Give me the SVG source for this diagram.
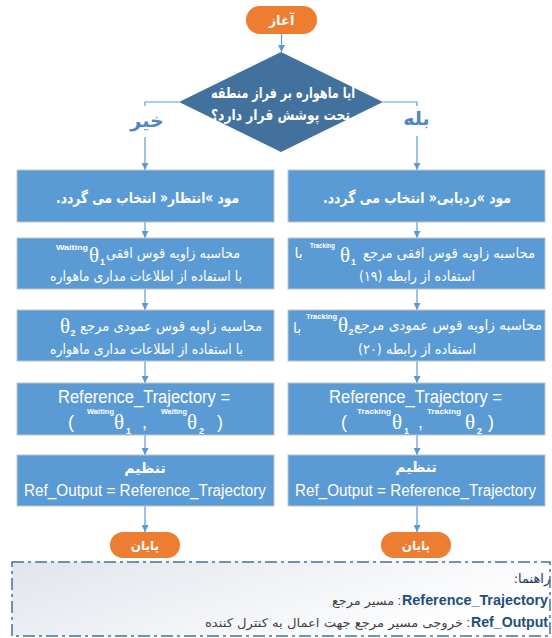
<svg xmlns="http://www.w3.org/2000/svg" width="552" height="638" viewBox="0 0 552 638">
<defs>
<style>
.box{fill:#5B9BD5;stroke:#c4c4c4;stroke-width:1}
.term{fill:#ED7D31}
.dia{fill:#41719C}
.conn{stroke:#5B9BD5;stroke-width:1.2;fill:none}
.fa{font-family:"DejaVu Sans",sans-serif}
.lat{font-family:"Liberation Sans",Arial,sans-serif}
.th{font-family:"Liberation Serif","Times New Roman",serif;font-size:21px;fill:#fff}
.sup{font-family:"Liberation Sans",Arial,sans-serif;font-size:8px;font-weight:bold;fill:#fff}
.sub{font-family:"Liberation Sans",Arial,sans-serif;font-size:9px;font-weight:bold;fill:#fff}
.w{fill:#fff}
.b{font-weight:bold}
.lbl{font-family:"DejaVu Sans",sans-serif;font-weight:bold;font-size:19px;fill:#4F87C4}
</style>
<marker id="ah" viewBox="0 0 8 8" refX="8" refY="4" markerWidth="7" markerHeight="7" markerUnits="userSpaceOnUse" orient="auto">
<path d="M0,0 L8,4 L0,8 z" fill="#5B9BD5"/>
</marker>
<linearGradient id="lg" x1="0" y1="0" x2="1" y2="0.4">
<stop offset="0" stop-color="#e1e5ec"/>
<stop offset="1" stop-color="#ffffff"/>
</linearGradient>
</defs>

<g id="connectors">
<path class="conn" d="M281.5,34 V52" marker-end="url(#ah)"/>
<path class="conn" d="M179,102 H145 V106"/>
<path class="conn" d="M145,137 V170" marker-end="url(#ah)"/>
<path class="conn" d="M383,102 H417 V106"/>
<path class="conn" d="M417,136 V170" marker-end="url(#ah)"/>
<path class="conn" d="M145,222 V238" marker-end="url(#ah)"/>
<path class="conn" d="M145,289 V310" marker-end="url(#ah)"/>
<path class="conn" d="M145,361 V383" marker-end="url(#ah)"/>
<path class="conn" d="M145,435 V455" marker-end="url(#ah)"/>
<path class="conn" d="M145,506 V532" marker-end="url(#ah)"/>
<path class="conn" d="M417,222 V238" marker-end="url(#ah)"/>
<path class="conn" d="M417,289 V310" marker-end="url(#ah)"/>
<path class="conn" d="M417,361 V383" marker-end="url(#ah)"/>
<path class="conn" d="M417,435 V455" marker-end="url(#ah)"/>
<path class="conn" d="M417,506 V532" marker-end="url(#ah)"/>
<text class="lbl" x="147" y="127" text-anchor="middle">خیر</text>
<text class="lbl" x="416.5" y="125" text-anchor="middle">بله</text>
</g>

<g id="start">
<rect class="term" x="246" y="6" width="71" height="28" rx="14"/>
<text class="fa w b" x="281.5" y="25" font-size="13" text-anchor="middle">آغاز</text>
</g>

<g id="decision">
<polygon class="dia" points="281,52 383,102 281,152 179,102"/>
<text class="fa w b" x="283" y="98" font-size="15" text-anchor="middle" direction="rtl" textLength="144" lengthAdjust="spacingAndGlyphs">آیا ماهواره بر فراز منطقه</text>
<text class="fa w b" x="280.5" y="120" font-size="15" text-anchor="middle" direction="rtl" textLength="139" lengthAdjust="spacingAndGlyphs">تحت پوشش قرار دارد؟</text>
</g>

<g id="wait-mode">
<rect class="box" x="17" y="170" width="257" height="52"/>
<text class="fa w b" x="147.5" y="203" font-size="15" text-anchor="middle" direction="rtl" textLength="183" lengthAdjust="spacingAndGlyphs">مود »انتظار« انتخاب می گردد.</text>
</g>

<g id="track-mode">
<rect class="box" x="288" y="170" width="257" height="52"/>
<text class="fa w b" x="417" y="203" font-size="15" text-anchor="middle" direction="rtl" textLength="188" lengthAdjust="spacingAndGlyphs">مود »ردیابی« انتخاب می گردد.</text>
</g>

<g id="wait-theta1">
<rect class="box" x="17" y="238" width="257" height="51"/>
<text class="sup" x="56" y="250" textLength="32" lengthAdjust="spacingAndGlyphs">Waiting</text>
<text class="th" x="89" y="262">θ</text>
<text class="sub" x="100" y="265">1</text>
<text class="fa w" x="173" y="258" font-size="14" text-anchor="middle" textLength="134" lengthAdjust="spacingAndGlyphs">محاسبه زاویه قوس افقی</text>
<text class="fa w" x="146" y="281" font-size="14" text-anchor="middle" textLength="192" lengthAdjust="spacingAndGlyphs">با استفاده از اطلاعات مداری ماهواره</text>
</g>

<g id="track-theta1">
<rect class="box" x="288" y="238" width="257" height="51"/>
<text class="fa w" x="298.5" y="258" font-size="14" text-anchor="middle">با</text>
<text class="sup" x="310" y="248" textLength="25" lengthAdjust="spacingAndGlyphs">Tracking</text>
<text class="th" x="340" y="262">θ</text>
<text class="sub" x="351" y="265">1</text>
<text class="fa w" x="449" y="258" font-size="14" text-anchor="middle" textLength="172" lengthAdjust="spacingAndGlyphs">محاسبه زاویه قوس افقی مرجع</text>
<text class="fa w" x="417" y="281" font-size="14" text-anchor="middle" direction="rtl" textLength="116" lengthAdjust="spacingAndGlyphs">استفاده از رابطه (۱۹)</text>
</g>

<g id="wait-theta2">
<rect class="box" x="17" y="310" width="257" height="51"/>
<text class="th" x="60" y="333">θ</text>
<text class="sub" x="70.5" y="336">2</text>
<text class="fa w" x="171" y="331" font-size="14" text-anchor="middle" textLength="182" lengthAdjust="spacingAndGlyphs">محاسبه زاویه قوس عمودی مرجع</text>
<text class="fa w" x="146.5" y="354" font-size="14" text-anchor="middle" textLength="193" lengthAdjust="spacingAndGlyphs">با استفاده از اطلاعات مداری ماهواره</text>
</g>

<g id="track-theta2">
<rect class="box" x="288" y="310" width="257" height="51"/>
<text class="fa w" x="297" y="333" font-size="14" text-anchor="middle">با</text>
<text class="sup" x="306" y="319" textLength="31" lengthAdjust="spacingAndGlyphs">Tracking</text>
<text class="th" x="338" y="332">θ</text>
<text class="sub" x="348.5" y="335">2</text>
<text class="fa w" x="448" y="330" font-size="14" text-anchor="middle" textLength="188" lengthAdjust="spacingAndGlyphs">محاسبه زاویه قوس عمودی مرجع</text>
<text class="fa w" x="417" y="354" font-size="14" text-anchor="middle" direction="rtl" textLength="118" lengthAdjust="spacingAndGlyphs">استفاده از رابطه (۲۰)</text>
</g>

<g id="wait-ref">
<rect class="box" x="17" y="383" width="257" height="52"/>
<text class="lat w" x="58" y="403" font-size="18" textLength="172" lengthAdjust="spacingAndGlyphs">Reference_Trajectory =</text>
<text class="lat w" x="68" y="428" font-size="18">(</text>
<text class="sup" x="87" y="414" textLength="27" lengthAdjust="spacingAndGlyphs">Waiting</text>
<text class="th" x="114" y="429" font-size="22">θ</text>
<text class="sub" x="126" y="434">1</text>
<text class="lat w" x="142" y="428" font-size="18">,</text>
<text class="sup" x="161" y="414" textLength="26" lengthAdjust="spacingAndGlyphs">Waiting</text>
<text class="th" x="187" y="429" font-size="22">θ</text>
<text class="sub" x="199" y="434">2</text>
<text class="lat w" x="217" y="428" font-size="18">)</text>
</g>

<g id="track-ref">
<rect class="box" x="288" y="383" width="257" height="52"/>
<text class="lat w" x="329" y="403" font-size="18" textLength="173" lengthAdjust="spacingAndGlyphs">Reference_Trajectory =</text>
<text class="lat w" x="341" y="428" font-size="18">(</text>
<text class="sup" x="357" y="414" textLength="34" lengthAdjust="spacingAndGlyphs">Tracking</text>
<text class="th" x="392" y="429" font-size="22">θ</text>
<text class="sub" x="404" y="434">1</text>
<text class="lat w" x="418" y="428" font-size="18">,</text>
<text class="sup" x="427" y="414" textLength="34" lengthAdjust="spacingAndGlyphs">Tracking</text>
<text class="th" x="465" y="429" font-size="22">θ</text>
<text class="sub" x="477" y="434">2</text>
<text class="lat w" x="488" y="428" font-size="18">)</text>
</g>

<g id="wait-set">
<rect class="box" x="17" y="455" width="257" height="51"/>
<text class="fa w b" x="145" y="473" font-size="14" text-anchor="middle">تنظیم</text>
<text class="lat w" x="24" y="496" font-size="16" textLength="242" lengthAdjust="spacingAndGlyphs">Ref_Output = Reference_Trajectory</text>
</g>

<g id="track-set">
<rect class="box" x="288" y="455" width="257" height="51"/>
<text class="fa w b" x="416" y="472" font-size="14" text-anchor="middle">تنظیم</text>
<text class="lat w" x="295" y="496" font-size="16" textLength="241" lengthAdjust="spacingAndGlyphs">Ref_Output = Reference_Trajectory</text>
</g>

<g id="end-wait">
<rect class="term" x="110" y="532" width="70" height="26" rx="13"/>
<text class="fa w b" x="145" y="550" font-size="12" text-anchor="middle">پایان</text>
</g>

<g id="end-track">
<rect class="term" x="381" y="532" width="70" height="26" rx="13"/>
<text class="fa w b" x="416" y="550" font-size="12" text-anchor="middle">پایان</text>
</g>

<g id="legend">
<rect x="12" y="562" width="538" height="74" fill="url(#lg)" stroke="#41719C" stroke-width="1.5" stroke-dasharray="12 4 3 4"/>
<text class="fa" x="532" y="583" font-size="13" fill="#1F3864" text-anchor="middle" direction="rtl">راهنما:</text>
<text class="lat b" x="548" y="605" font-size="14" fill="#1F4E79" text-anchor="end" textLength="146" lengthAdjust="spacingAndGlyphs">Reference_Trajectory</text>
<text class="lat" x="401" y="605" font-size="13" fill="#404040" text-anchor="end">:</text>
<text class="fa" x="394" y="605" font-size="12" fill="#404040" text-anchor="end" textLength="62" lengthAdjust="spacingAndGlyphs">مسیر مرجع</text>
<text class="lat b" x="548" y="627" font-size="14" fill="#1F4E79" text-anchor="end" textLength="77" lengthAdjust="spacingAndGlyphs">Ref_Output</text>
<text class="lat" x="470" y="627" font-size="13" fill="#404040" text-anchor="end">:</text>
<text class="fa" x="463" y="627" font-size="12" fill="#404040" text-anchor="end" textLength="258" lengthAdjust="spacingAndGlyphs">خروجی مسیر مرجع جهت اعمال به کنترل کننده</text>
</g>
</svg>
